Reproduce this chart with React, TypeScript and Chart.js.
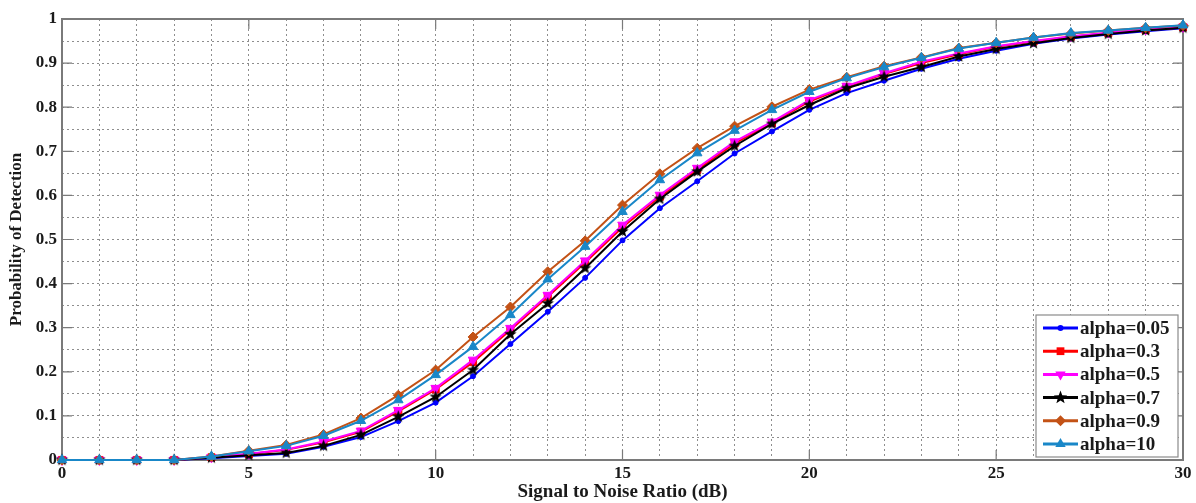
import React, { useEffect, useRef } from 'react';
import { Chart, registerables } from 'chart.js';

Chart.register(...registerables);

// ---- data ----
const snr = [0, 1, 2, 3, 4, 5, 6, 7, 8, 9, 10, 11, 12, 13, 14, 15, 16, 17, 18, 19, 20, 21, 22, 23, 24, 25, 26, 27, 28, 29, 30];
const seriesLabels = ['alpha=0.05', 'alpha=0.3', 'alpha=0.5', 'alpha=0.7', 'alpha=0.9', 'alpha=10'];
const pdAlpha005 = [0, 0, 0, 0, 0.004, 0.009, 0.014, 0.03, 0.052, 0.088, 0.13, 0.19, 0.263, 0.336, 0.413, 0.498, 0.571, 0.632, 0.695, 0.745, 0.794, 0.832, 0.86, 0.887, 0.91, 0.928, 0.944, 0.956, 0.965, 0.972, 0.979];
const pdAlpha03 = [0, 0, 0, 0, 0.006, 0.013, 0.023, 0.04, 0.064, 0.11, 0.16, 0.222, 0.295, 0.37, 0.448, 0.528, 0.597, 0.658, 0.718, 0.764, 0.813, 0.846, 0.875, 0.9, 0.92, 0.937, 0.949, 0.96, 0.968, 0.975, 0.981];
const pdAlpha05 = [0, 0, 0, 0, 0.006, 0.014, 0.024, 0.042, 0.066, 0.113, 0.163, 0.227, 0.299, 0.374, 0.452, 0.533, 0.601, 0.662, 0.722, 0.767, 0.816, 0.848, 0.877, 0.903, 0.922, 0.938, 0.95, 0.961, 0.969, 0.976, 0.982];
const pdAlpha07 = [0, 0, 0, 0, 0.005, 0.011, 0.016, 0.032, 0.057, 0.098, 0.143, 0.204, 0.285, 0.355, 0.435, 0.518, 0.592, 0.654, 0.712, 0.762, 0.805, 0.843, 0.869, 0.891, 0.915, 0.932, 0.945, 0.957, 0.966, 0.974, 0.98];
const pdAlpha09 = [0, 0, 0, 0, 0.008, 0.021, 0.034, 0.058, 0.095, 0.147, 0.204, 0.279, 0.347, 0.427, 0.497, 0.578, 0.649, 0.707, 0.757, 0.801, 0.84, 0.868, 0.893, 0.913, 0.934, 0.946, 0.958, 0.967, 0.974, 0.98, 0.985];
const pdAlpha10 = [0, 0, 0, 0, 0.008, 0.02, 0.032, 0.055, 0.089, 0.136, 0.193, 0.257, 0.329, 0.41, 0.484, 0.563, 0.635, 0.696, 0.747, 0.794, 0.835, 0.866, 0.891, 0.912, 0.933, 0.946, 0.958, 0.968, 0.974, 0.98, 0.986];
const xTickLabels = ['0', '5', '10', '15', '20', '25', '30'];
const yTickLabels = ['0', '0.1', '0.2', '0.3', '0.4', '0.5', '0.6', '0.7', '0.8', '0.9', '1'];
const xTitle = 'Signal to Noise Ratio (dB)';
const yTitle = 'Probability of Detection';

// ---- styles ----
const FONT = "'Liberation Serif', 'Times New Roman', serif";
const TEXT = '#1a1a1a';
const colors = ['#0000ff', '#ff0000', '#ff00ff', '#000000', 'rgb(195,82,22)', 'rgb(25,135,200)'];
const markerKinds = ['circle', 'rect', 'triDown', 'star', 'rectRot', 'triangle'];
const markerRadius = [2.5, 5, 5.5, 6.5, 5, 5.5];

function makeStar(r: number, color: string): HTMLCanvasElement {
  const c = document.createElement('canvas');
  const s = Math.ceil(r * 2 + 2);
  c.width = s;
  c.height = s;
  const ctx = c.getContext('2d')!;
  ctx.translate(s / 2, s / 2);
  ctx.beginPath();
  for (let i = 0; i < 10; i++) {
    const rad = i % 2 === 0 ? r : r * 0.42;
    const a = -Math.PI / 2 + (i * Math.PI) / 5;
    ctx.lineTo(rad * Math.cos(a), rad * Math.sin(a));
  }
  ctx.closePath();
  ctx.fillStyle = color;
  ctx.fill();
  return c;
}

function drawMarker(ctx: CanvasRenderingContext2D, kind: string, x: number, y: number, r: number, color: string) {
  ctx.save();
  ctx.fillStyle = color;
  ctx.beginPath();
  if (kind === 'circle') {
    ctx.arc(x, y, r, 0, Math.PI * 2);
  } else if (kind === 'rect') {
    const s = r * Math.SQRT1_2;
    ctx.rect(x - s, y - s, 2 * s, 2 * s);
  } else if (kind === 'rectRot') {
    ctx.moveTo(x - r, y);
    ctx.lineTo(x, y - r);
    ctx.lineTo(x + r, y);
    ctx.lineTo(x, y + r);
    ctx.closePath();
  } else if (kind === 'triangle' || kind === 'triDown') {
    const sgn = kind === 'triangle' ? 1 : -1;
    const h = r * 0.5;
    const w = (r * Math.sqrt(3)) / 2;
    ctx.moveTo(x, y - sgn * r);
    ctx.lineTo(x + w, y + sgn * h);
    ctx.lineTo(x - w, y + sgn * h);
    ctx.closePath();
  } else if (kind === 'star') {
    for (let i = 0; i < 10; i++) {
      const rad = i % 2 === 0 ? r : r * 0.42;
      const a = -Math.PI / 2 + (i * Math.PI) / 5;
      ctx.lineTo(x + rad * Math.cos(a), y + rad * Math.sin(a));
    }
    ctx.closePath();
  }
  ctx.fill();
  ctx.restore();
}

const framePlugin = {
  id: 'frameTicks',
  beforeDatasetsDraw(chart: any) {
    const { ctx, chartArea: a, scales } = chart;
    ctx.save();
    ctx.strokeStyle = '#7a7a7a';
    ctx.lineWidth = 1.2;
    const len = 10;
    ctx.beginPath();
    xTickLabels.forEach((t) => {
      const px = scales.x.getPixelForValue(Number(t));
      ctx.moveTo(px, a.bottom);
      ctx.lineTo(px, a.bottom - len);
      ctx.moveTo(px, a.top);
      ctx.lineTo(px, a.top + len);
    });
    yTickLabels.forEach((t) => {
      const py = scales.y.getPixelForValue(Number(t));
      ctx.moveTo(a.left, py);
      ctx.lineTo(a.left + len, py);
      ctx.moveTo(a.right, py);
      ctx.lineTo(a.right - len, py);
    });
    ctx.stroke();
    ctx.strokeStyle = '#7a7a7a';
    ctx.lineWidth = 2;
    ctx.strokeRect(a.left, a.top, a.right - a.left, a.bottom - a.top);
    ctx.restore();
  },
};

const legendPlugin = {
  id: 'insideLegend',
  afterDraw(chart: any) {
    const { ctx, chartArea: a } = chart;
    const boxW = 142;
    const boxH = 142;
    const bx = a.right - 5 - boxW;
    const by = a.bottom - 3 - boxH;
    ctx.save();
    ctx.fillStyle = '#ffffff';
    ctx.fillRect(bx, by, boxW, boxH);
    ctx.strokeStyle = '#8a8a8a';
    ctx.lineWidth = 1.2;
    ctx.strokeRect(bx, by, boxW, boxH);
    ctx.font = `bold 19px ${FONT}`;
    ctx.textBaseline = 'middle';
    ctx.textAlign = 'left';
    chart.data.datasets.forEach((ds: any, i: number) => {
      const y = by + 13 + i * 23.2;
      const x0 = bx + 7;
      const x1 = bx + 42;
      ctx.strokeStyle = colors[i];
      ctx.lineWidth = 3;
      ctx.beginPath();
      ctx.moveTo(x0, y);
      ctx.lineTo(x1, y);
      ctx.stroke();
      drawMarker(ctx, markerKinds[i], (x0 + x1) / 2, y, markerRadius[i] + 0.5, colors[i]);
      ctx.fillStyle = TEXT;
      ctx.fillText(ds.label, bx + 44, y + 1);
    });
    ctx.restore();
  },
};

export default function App() {
  const ref = useRef<HTMLCanvasElement | null>(null);

  useEffect(() => {
    document.body.style.margin = '0';
    const canvas = ref.current!;
    const series = [pdAlpha005, pdAlpha03, pdAlpha05, pdAlpha07, pdAlpha09, pdAlpha10];
    const star = makeStar(markerRadius[3], colors[3]);

    const datasets = series.map((vals, i) => {
      const kind = markerKinds[i];
      let pointStyle: any = kind;
      let rotation = 0;
      if (kind === 'triDown') {
        pointStyle = 'triangle';
        rotation = 180;
      }
      if (kind === 'star') pointStyle = star;
      return {
        label: seriesLabels[i],
        data: snr.map((x, k) => ({ x, y: vals[k] })),
        borderColor: colors[i],
        backgroundColor: colors[i],
        pointBackgroundColor: colors[i],
        pointBorderColor: colors[i],
        pointBorderWidth: 1,
        pointStyle,
        pointRotation: rotation,
        pointRadius: markerRadius[i],
        borderWidth: 2,
        tension: 0,
        clip: false as any,
        order: series.length - i,
      };
    });

    const gridStyle = { color: '#8e8e8e', lineWidth: 1, drawTicks: false };
    const borderStyle = { display: false, dash: [2, 3] };

    const chart = new Chart(canvas, {
      type: 'line',
      data: { datasets },
      options: {
        animation: false,
        responsive: false,
        maintainAspectRatio: false,
        layout: { padding: { top: 19, right: 13, left: 0, bottom: 0 } },
        plugins: {
          legend: { display: false },
          tooltip: { enabled: false },
        },
        scales: {
          x: {
            type: 'linear',
            min: 0,
            max: 30,
            afterFit(scale: any) {
              scale.height = 43;
            },
            ticks: {
              stepSize: 1,
              autoSkip: false,
              maxRotation: 0,
              padding: 3,
              color: TEXT,
              font: { family: FONT, size: 17, weight: 'bold' },
              callback: (v: any) => {
                const n = Number(v);
                const s = String(Math.round(n));
                return xTickLabels.includes(s) && Math.abs(n - Math.round(n)) < 1e-6 ? s : '';
              },
            },
            grid: gridStyle,
            border: borderStyle,
            title: {
              display: true,
              text: xTitle,
              color: TEXT,
              font: { family: FONT, size: 19, weight: 'bold' },
              padding: { top: 0, bottom: 0 },
            },
          },
          y: {
            type: 'linear',
            min: 0,
            max: 1,
            afterFit(scale: any) {
              scale.width = 62;
            },
            ticks: {
              stepSize: 0.05,
              autoSkip: false,
              padding: 5,
              color: TEXT,
              font: { family: FONT, size: 17, weight: 'bold' },
              callback: (v: any) => {
                const n = Math.round(Number(v) * 100);
                if (n % 10 !== 0) return '';
                return yTickLabels[n / 10] ?? '';
              },
            },
            grid: gridStyle,
            border: borderStyle,
            title: {
              display: true,
              text: yTitle,
              color: TEXT,
              font: { family: FONT, size: 17, weight: 'bold' },
              padding: { top: 6, bottom: 0 },
            },
          },
        },
      },
      plugins: [framePlugin, legendPlugin],
    });

    return () => chart.destroy();
  }, []);

  return (
    <div style={{ width: 1196, height: 503, background: '#ffffff' }}>
      <canvas ref={ref} width={1196} height={503} style={{ display: 'block', width: 1196, height: 503 }} />
    </div>
  );
}
